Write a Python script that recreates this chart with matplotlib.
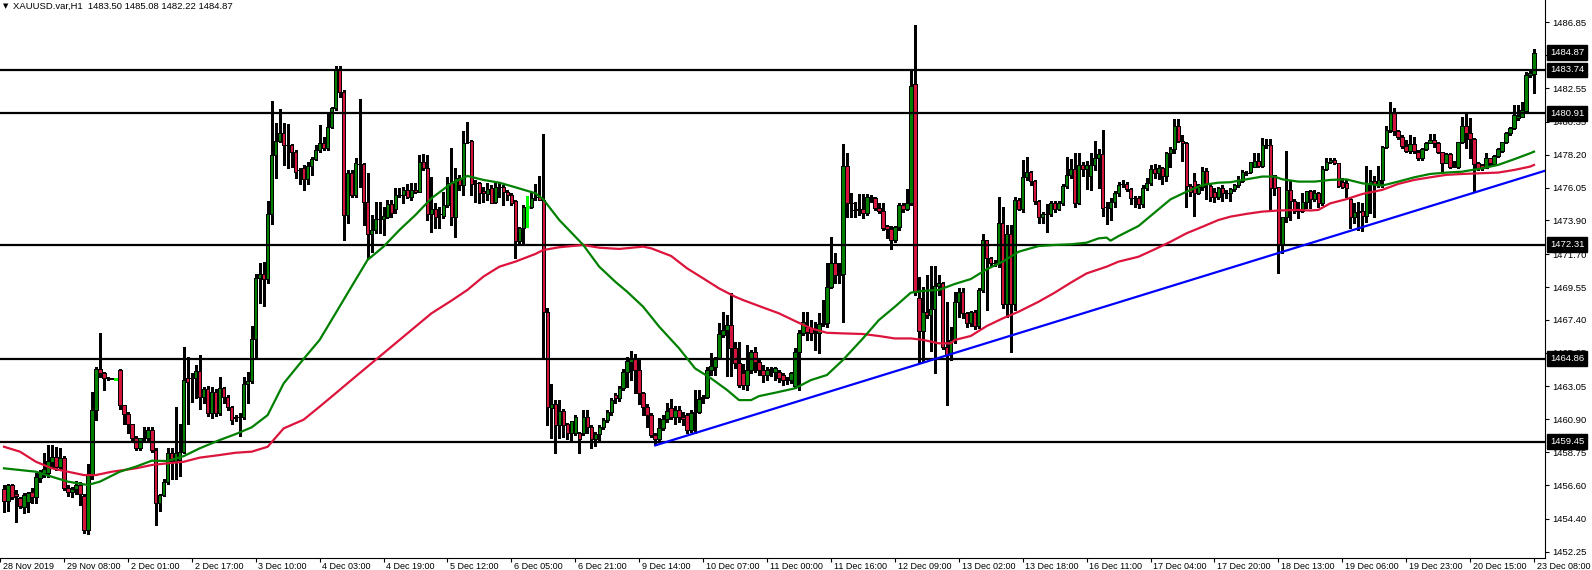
import matplotlib.pyplot as plt
import matplotlib.transforms as mtransforms
import numpy as np

plt.rcParams['font.family'] = ['Liberation Sans', 'DejaVu Sans']

# H1 candles, bar 1 .. bar 384 (28 Nov 2019 -> 23 Dec 08:00)
opens = [
    1456.33, 1455.59, 1456.61, 1456.00, 1455.78, 1455.19, 1455.52, 1456.13, 1455.85, 1457.05,
    1457.37, 1457.37, 1458.14, 1458.46, 1457.81, 1458.35, 1456.39, 1456.13, 1456.33, 1456.61,
    1455.91, 1453.67, 1457.26, 1461.51, 1464.19, 1463.96, 1463.60, 1463.58, 1463.52, 1464.13,
    1461.84, 1461.25, 1460.58, 1459.66, 1459.00, 1459.66, 1459.66, 1460.21, 1458.90, 1455.46,
    1455.96, 1456.83, 1458.68, 1458.15, 1458.25, 1458.79, 1463.58, 1463.58, 1463.58, 1464.08,
    1462.38, 1462.90, 1461.30, 1462.71, 1461.29, 1462.93, 1462.38, 1461.73, 1461.00, 1461.08,
    1461.06, 1463.20, 1463.41, 1466.13, 1470.12, 1470.40, 1470.06, 1474.33, 1478.18, 1479.12,
    1479.60, 1478.84, 1478.84, 1478.40, 1477.20, 1477.31, 1476.59, 1477.46, 1477.92, 1478.51,
    1478.94, 1478.62, 1480.03, 1481.23, 1483.74, 1482.32, 1474.26, 1476.98, 1475.57, 1477.60,
    1477.57, 1475.13, 1473.02, 1473.28, 1473.98, 1473.98, 1474.11, 1474.98, 1474.63, 1475.57,
    1475.57, 1475.89, 1475.46, 1475.89, 1475.78, 1477.75, 1477.31, 1474.32, 1474.63, 1474.32,
    1474.19, 1474.91, 1476.33, 1474.15, 1476.66, 1476.22, 1479.05, 1479.10, 1476.33, 1476.33,
    1475.83, 1475.63, 1476.05, 1475.13, 1476.07, 1476.07, 1475.78, 1475.57, 1475.17, 1472.56,
    1473.39, 1474.80, 1474.80, 1475.46, 1475.46, 1475.24, 1467.90, 1461.67, 1461.91, 1460.54,
    1461.45, 1460.58, 1459.99, 1459.99, 1460.00, 1459.99, 1461.04, 1460.39, 1459.60, 1459.93,
    1460.43, 1460.86, 1461.37, 1462.50, 1462.28, 1462.93, 1463.98, 1464.68, 1464.85, 1464.13,
    1462.64, 1461.73, 1461.18, 1459.88, 1459.59, 1460.31, 1460.90, 1461.67, 1461.08, 1461.52,
    1461.08, 1461.19, 1460.21, 1461.37, 1461.37, 1462.27, 1462.38, 1464.12, 1464.34, 1464.89,
    1466.41, 1466.74, 1467.06, 1465.54, 1464.56, 1463.91, 1463.14, 1464.12, 1465.32, 1464.67,
    1464.12, 1463.80, 1464.17, 1464.02, 1464.02, 1463.80, 1463.47, 1463.47, 1463.08, 1465.32,
    1466.52, 1466.96, 1466.85, 1466.63, 1466.52, 1467.13, 1467.17, 1469.57, 1471.10, 1470.33,
    1470.43, 1477.46, 1475.06, 1474.58, 1474.63, 1474.63, 1474.41, 1475.45, 1475.39, 1474.73,
    1474.54, 1473.54, 1473.32, 1472.62, 1473.45, 1474.91, 1474.63, 1475.02, 1482.82, 1468.81,
    1466.67, 1467.89, 1467.72, 1468.09, 1469.64, 1469.79, 1465.65, 1465.11, 1466.09, 1468.59,
    1469.20, 1467.83, 1467.18, 1467.94, 1467.00, 1469.36, 1472.62, 1471.43, 1471.14, 1471.14,
    1473.71, 1468.42, 1473.02, 1468.42, 1475.24, 1474.67, 1476.76, 1477.09, 1476.48, 1475.19,
    1474.10, 1474.30, 1474.30, 1475.06, 1474.67, 1475.02, 1476.15, 1476.87, 1477.24, 1475.02,
    1477.53, 1477.24, 1476.81, 1477.53, 1477.96, 1478.24, 1474.80, 1474.74, 1475.11, 1475.67,
    1476.28, 1476.28, 1475.96, 1475.35, 1475.35, 1474.95, 1476.00, 1476.33, 1477.24, 1476.98,
    1477.31, 1476.81, 1478.29, 1478.55, 1480.07, 1479.12, 1478.94, 1476.15, 1476.48, 1475.72,
    1476.11, 1477.13, 1476.15, 1475.78, 1475.41, 1476.00, 1475.67, 1475.67, 1475.94, 1476.22,
    1476.50, 1477.03, 1477.09, 1477.42, 1477.81, 1477.46, 1478.82, 1478.82, 1476.88, 1476.11,
    1472.37, 1474.11, 1475.90, 1475.20, 1474.55, 1474.55, 1475.09, 1475.83, 1475.29, 1475.72,
    1475.02, 1477.27, 1477.75, 1477.86, 1477.64, 1476.40, 1476.38, 1475.29, 1474.15, 1474.44,
    1474.55, 1474.20, 1476.33, 1476.51, 1476.29, 1476.55, 1478.68, 1479.82, 1480.91, 1479.77,
    1479.34, 1478.77, 1478.45, 1478.90, 1478.40, 1478.01, 1478.58, 1478.95, 1479.16, 1478.95,
    1478.36, 1477.68, 1478.23, 1477.42, 1477.42, 1479.01, 1480.08, 1479.60, 1479.21, 1477.64,
    1477.53, 1477.36, 1477.97, 1477.57, 1478.14, 1478.47, 1479.01, 1479.60, 1479.93, 1480.58,
    1480.69, 1481.08, 1483.41, 1483.50,
]
highs = [
    1456.60, 1456.68, 1456.68, 1456.28, 1455.85, 1456.11, 1456.17, 1456.39, 1457.37, 1457.59,
    1458.68, 1459.22, 1459.22, 1459.07, 1459.00, 1458.50, 1456.60, 1456.50, 1456.90, 1456.80,
    1456.00, 1458.00, 1462.71, 1464.30, 1466.53, 1464.00, 1463.65, 1463.62, 1463.55, 1464.17,
    1461.84, 1461.40, 1460.60, 1459.80, 1459.70, 1460.40, 1460.40, 1460.40, 1459.00, 1456.00,
    1457.00, 1459.00, 1459.00, 1461.73, 1460.60, 1465.65, 1465.00, 1463.90, 1464.45, 1465.10,
    1463.00, 1463.10, 1463.00, 1462.90, 1463.70, 1463.00, 1462.50, 1461.80, 1461.20, 1461.30,
    1463.70, 1464.00, 1467.00, 1470.40, 1471.10, 1471.20, 1475.20, 1481.70, 1480.30, 1481.20,
    1480.30, 1480.20, 1478.90, 1478.50, 1477.30, 1477.50, 1477.70, 1478.07, 1478.83, 1480.14,
    1479.38, 1481.01, 1481.34, 1484.00, 1484.00, 1482.43, 1477.20, 1477.20, 1477.96, 1481.82,
    1477.64, 1476.98, 1474.26, 1475.13, 1475.13, 1474.80, 1475.24, 1475.24, 1476.00, 1476.00,
    1476.11, 1476.29, 1476.33, 1476.33, 1478.18, 1478.22, 1478.18, 1476.76, 1475.02, 1474.80,
    1475.78, 1476.76, 1478.62, 1477.31, 1476.90, 1479.77, 1480.36, 1479.16, 1476.55, 1476.44,
    1476.11, 1476.33, 1476.22, 1476.37, 1476.33, 1476.22, 1475.89, 1475.68, 1475.24, 1473.45,
    1474.91, 1475.50, 1475.78, 1476.29, 1476.81, 1479.55, 1468.20, 1463.22, 1462.17, 1462.17,
    1461.56, 1460.65, 1460.80, 1461.20, 1460.10, 1461.50, 1461.50, 1460.50, 1460.10, 1460.54,
    1461.00, 1461.50, 1462.30, 1462.60, 1463.10, 1464.20, 1465.00, 1465.37, 1465.20, 1464.90,
    1462.70, 1461.90, 1461.30, 1460.00, 1460.96, 1461.20, 1462.00, 1462.20, 1461.80, 1461.80,
    1461.40, 1461.30, 1461.50, 1462.80, 1462.80, 1462.50, 1464.34, 1465.26, 1465.00, 1467.17,
    1467.94, 1467.70, 1469.13, 1465.98, 1465.98, 1464.50, 1465.76, 1465.43, 1465.65, 1464.89,
    1464.45, 1464.34, 1464.34, 1464.34, 1464.12, 1463.90, 1463.70, 1464.00, 1465.54, 1466.74,
    1467.94, 1467.94, 1467.40, 1467.28, 1467.83, 1468.70, 1471.10, 1472.84, 1471.75, 1471.10,
    1478.90, 1478.29, 1475.67, 1475.13, 1475.63, 1475.63, 1475.63, 1475.56, 1475.45, 1475.02,
    1475.02, 1473.60, 1473.54, 1473.54, 1475.02, 1475.02, 1475.93, 1483.73, 1486.67, 1470.18,
    1469.57, 1470.34, 1470.90, 1470.90, 1470.34, 1469.90, 1468.59, 1466.96, 1469.25, 1469.46,
    1469.46, 1467.90, 1468.00, 1468.05, 1469.50, 1473.02, 1472.62, 1471.50, 1471.30, 1475.41,
    1474.80, 1473.60, 1473.60, 1475.46, 1475.35, 1477.85, 1478.03, 1477.13, 1476.55, 1475.24,
    1474.48, 1475.00, 1475.19, 1475.20, 1475.20, 1476.30, 1478.03, 1477.90, 1478.29, 1478.29,
    1477.70, 1477.80, 1478.30, 1479.12, 1478.55, 1479.81, 1475.10, 1475.40, 1475.80, 1476.40,
    1476.55, 1476.40, 1476.00, 1475.50, 1475.50, 1476.20, 1476.70, 1477.50, 1477.60, 1477.50,
    1477.40, 1478.40, 1478.70, 1480.51, 1480.51, 1479.50, 1479.00, 1476.30, 1477.00, 1476.30,
    1477.40, 1477.30, 1476.30, 1476.00, 1476.10, 1476.20, 1475.90, 1476.00, 1476.30, 1476.80,
    1477.20, 1477.14, 1477.75, 1478.29, 1478.29, 1479.27, 1479.21, 1479.21, 1476.88, 1476.11,
    1474.15, 1478.47, 1476.55, 1475.29, 1475.13, 1475.72, 1475.83, 1475.90, 1475.90, 1475.79,
    1477.46, 1477.97, 1477.97, 1477.97, 1477.68, 1476.66, 1476.59, 1475.46, 1475.02, 1475.13,
    1475.07, 1477.46, 1477.20, 1476.81, 1477.46, 1478.77, 1480.08, 1481.67, 1481.23, 1479.82,
    1479.49, 1479.16, 1479.49, 1479.38, 1478.51, 1478.66, 1479.06, 1479.56, 1479.53, 1479.01,
    1478.40, 1478.29, 1478.29, 1477.81, 1479.06, 1480.69, 1480.91, 1480.58, 1479.27, 1477.70,
    1477.60, 1478.29, 1477.97, 1478.18, 1478.62, 1479.06, 1479.71, 1479.99, 1481.45, 1481.45,
    1481.67, 1483.63, 1483.74, 1485.08,
]
lows = [
    1454.87, 1454.90, 1455.70, 1454.21, 1455.08, 1454.80, 1454.87, 1455.41, 1455.41, 1456.83,
    1457.15, 1457.15, 1457.81, 1457.59, 1457.60, 1456.30, 1455.90, 1455.80, 1456.00, 1455.30,
    1453.50, 1453.40, 1457.00, 1460.86, 1463.70, 1462.82, 1463.50, 1463.52, 1463.50, 1461.60,
    1460.60, 1460.00, 1459.55, 1458.90, 1458.90, 1459.55, 1459.55, 1458.80, 1453.97, 1454.90,
    1455.90, 1456.70, 1457.00, 1457.00, 1457.20, 1458.70, 1460.60, 1462.05, 1462.30, 1461.60,
    1462.00, 1461.10, 1461.00, 1461.10, 1461.20, 1462.00, 1461.50, 1460.60, 1460.80, 1459.81,
    1460.90, 1462.00, 1463.30, 1465.00, 1468.50, 1468.30, 1469.80, 1473.70, 1476.70, 1479.00,
    1477.50, 1477.30, 1477.40, 1476.70, 1476.30, 1475.90, 1476.30, 1476.87, 1477.85, 1478.40,
    1478.51, 1478.51, 1479.92, 1481.12, 1481.99, 1472.62, 1473.71, 1475.46, 1475.46, 1476.11,
    1473.61, 1471.43, 1471.86, 1473.06, 1473.06, 1472.95, 1474.04, 1474.15, 1474.37, 1475.46,
    1475.02, 1475.35, 1475.24, 1475.68, 1475.78, 1477.20, 1473.93, 1473.17, 1473.39, 1473.39,
    1474.04, 1474.80, 1473.61, 1472.84, 1475.90, 1475.57, 1478.94, 1475.57, 1475.13, 1475.02,
    1475.13, 1475.24, 1475.02, 1475.02, 1475.46, 1474.91, 1475.24, 1474.91, 1471.43, 1472.45,
    1472.45, 1473.45, 1474.70, 1475.24, 1475.24, 1465.00, 1460.53, 1459.67, 1458.73, 1459.67,
    1459.77, 1459.60, 1459.56, 1459.90, 1458.68, 1459.90, 1459.99, 1459.00, 1459.16, 1459.56,
    1460.30, 1460.70, 1461.20, 1462.00, 1462.10, 1462.80, 1463.00, 1463.50, 1462.60, 1461.90,
    1461.20, 1460.40, 1459.75, 1459.22, 1459.40, 1460.20, 1460.70, 1460.90, 1460.60, 1460.70,
    1460.50, 1460.00, 1460.10, 1460.00, 1461.30, 1462.00, 1462.27, 1463.80, 1463.80, 1464.89,
    1466.30, 1463.73, 1463.73, 1464.23, 1463.03, 1462.90, 1462.82, 1463.91, 1464.00, 1463.80,
    1463.36, 1463.47, 1463.73, 1463.47, 1463.36, 1463.14, 1463.20, 1463.30, 1462.93, 1462.82,
    1466.41, 1466.08, 1466.08, 1465.43, 1465.21, 1467.00, 1466.96, 1469.46, 1469.79, 1469.79,
    1467.28, 1474.15, 1474.15, 1474.15, 1474.25, 1474.04, 1474.25, 1475.13, 1474.58, 1474.41,
    1473.27, 1472.73, 1472.01, 1472.51, 1473.27, 1474.47, 1474.58, 1474.91, 1469.03, 1464.67,
    1464.67, 1467.50, 1465.40, 1463.91, 1469.03, 1465.50, 1461.84, 1464.78, 1465.87, 1467.61,
    1467.50, 1466.96, 1467.00, 1466.80, 1466.90, 1469.25, 1468.05, 1470.90, 1470.90, 1470.88,
    1468.16, 1467.61, 1465.28, 1468.05, 1474.58, 1474.48, 1476.55, 1476.20, 1475.00, 1473.71,
    1473.71, 1473.17, 1474.20, 1474.48, 1474.58, 1474.90, 1476.00, 1476.70, 1474.80, 1474.95,
    1476.80, 1475.94, 1475.90, 1477.20, 1476.00, 1474.20, 1473.70, 1473.90, 1474.80, 1475.50,
    1476.10, 1475.80, 1474.95, 1474.80, 1474.70, 1474.80, 1475.90, 1476.20, 1476.70, 1476.60,
    1476.30, 1476.50, 1477.40, 1478.30, 1479.00, 1477.80, 1474.80, 1475.50, 1474.20, 1475.60,
    1475.90, 1475.30, 1475.20, 1475.10, 1475.30, 1475.20, 1475.40, 1475.20, 1475.80, 1476.10,
    1476.40, 1476.88, 1476.99, 1477.40, 1477.42, 1477.42, 1478.62, 1474.59, 1475.57, 1470.45,
    1471.76, 1473.83, 1473.94, 1474.37, 1474.04, 1474.48, 1474.70, 1474.70, 1475.20, 1474.81,
    1474.92, 1477.20, 1477.64, 1477.60, 1476.11, 1476.01, 1475.46, 1473.39, 1473.76, 1473.28,
    1473.24, 1473.83, 1474.37, 1474.15, 1476.11, 1476.11, 1478.62, 1479.71, 1479.49, 1479.23,
    1478.62, 1478.40, 1478.29, 1478.29, 1477.86, 1477.86, 1478.51, 1478.95, 1478.73, 1478.29,
    1477.09, 1477.64, 1477.31, 1477.38, 1477.36, 1478.95, 1478.62, 1477.97, 1475.79, 1477.20,
    1477.20, 1477.31, 1477.50, 1477.53, 1478.07, 1478.40, 1478.95, 1479.49, 1479.86, 1480.47,
    1480.65, 1481.02, 1483.30, 1482.22,
]
closes = [
    1455.59, 1456.61, 1455.80, 1455.92, 1455.24, 1455.96, 1456.07, 1455.85, 1457.15, 1457.42,
    1457.63, 1458.18, 1458.46, 1457.81, 1458.40, 1456.39, 1456.13, 1456.33, 1456.61, 1456.00,
    1453.67, 1457.26, 1461.51, 1464.19, 1463.96, 1463.60, 1463.58, 1463.56, 1463.53, 1461.84,
    1461.25, 1460.58, 1459.66, 1459.00, 1459.66, 1459.66, 1460.21, 1458.90, 1455.46, 1455.96,
    1456.83, 1458.68, 1458.15, 1458.68, 1458.79, 1463.48, 1463.37, 1463.58, 1464.06, 1462.38,
    1462.90, 1461.30, 1462.71, 1461.29, 1462.93, 1462.38, 1461.73, 1460.86, 1461.03, 1461.06,
    1463.20, 1463.41, 1466.13, 1470.12, 1470.40, 1470.06, 1474.33, 1478.18, 1479.12, 1479.60,
    1478.84, 1478.82, 1478.40, 1477.09, 1477.18, 1476.59, 1477.46, 1477.92, 1478.51, 1478.94,
    1478.62, 1480.03, 1481.23, 1483.74, 1482.32, 1474.26, 1476.98, 1475.57, 1477.64, 1477.57,
    1475.13, 1473.02, 1473.28, 1473.98, 1473.98, 1474.21, 1474.98, 1474.37, 1475.57, 1475.57,
    1475.89, 1475.46, 1475.89, 1475.74, 1477.75, 1477.31, 1474.32, 1474.63, 1474.11, 1474.32,
    1474.91, 1476.33, 1474.15, 1476.66, 1476.22, 1478.99, 1479.05, 1476.26, 1476.33, 1475.72,
    1475.68, 1475.94, 1475.07, 1476.11, 1476.07, 1475.78, 1475.57, 1475.02, 1472.56, 1473.39,
    1474.80, 1474.80, 1475.35, 1475.46, 1475.24, 1467.90, 1461.69, 1461.91, 1460.54, 1461.45,
    1460.54, 1459.99, 1460.80, 1461.04, 1459.60, 1461.04, 1460.39, 1459.60, 1459.93, 1460.43,
    1460.86, 1461.37, 1462.17, 1462.28, 1462.93, 1463.98, 1464.72, 1464.85, 1464.13, 1462.64,
    1461.73, 1461.18, 1459.88, 1459.59, 1460.31, 1460.90, 1461.47, 1461.08, 1461.52, 1461.04,
    1460.93, 1460.21, 1461.30, 1461.37, 1462.24, 1462.38, 1464.12, 1464.39, 1464.89, 1466.48,
    1466.74, 1467.06, 1465.54, 1464.56, 1463.14, 1463.14, 1464.12, 1465.32, 1464.67, 1464.12,
    1463.80, 1464.12, 1464.17, 1464.23, 1463.58, 1463.47, 1463.51, 1463.91, 1465.32, 1466.52,
    1467.28, 1466.63, 1466.52, 1466.52, 1467.13, 1467.22, 1469.57, 1471.10, 1470.33, 1470.33,
    1477.46, 1475.06, 1475.06, 1474.58, 1474.63, 1474.41, 1475.45, 1475.45, 1474.73, 1474.54,
    1473.38, 1473.32, 1472.62, 1473.45, 1474.91, 1474.63, 1475.02, 1482.69, 1469.24, 1466.67,
    1467.89, 1467.72, 1468.09, 1469.64, 1469.79, 1465.65, 1465.11, 1466.09, 1468.59, 1469.20,
    1467.83, 1467.18, 1467.94, 1467.00, 1469.36, 1472.62, 1471.43, 1471.14, 1471.14, 1473.71,
    1468.42, 1473.02, 1468.42, 1475.24, 1474.67, 1476.76, 1477.09, 1476.48, 1475.19, 1474.10,
    1474.30, 1474.30, 1475.06, 1474.67, 1475.02, 1476.15, 1476.87, 1477.24, 1475.02, 1477.53,
    1477.24, 1477.53, 1477.53, 1477.96, 1478.24, 1474.74, 1474.80, 1475.11, 1475.67, 1476.22,
    1476.28, 1475.96, 1475.35, 1475.35, 1474.95, 1476.00, 1476.33, 1477.24, 1476.98, 1477.31,
    1476.81, 1478.29, 1478.55, 1480.07, 1479.12, 1478.94, 1476.15, 1475.78, 1475.72, 1476.11,
    1477.13, 1476.37, 1475.46, 1475.41, 1476.00, 1475.67, 1475.67, 1475.94, 1476.22, 1476.50,
    1477.09, 1477.03, 1477.75, 1477.81, 1477.46, 1478.84, 1478.82, 1476.01, 1476.01, 1472.37,
    1474.11, 1475.90, 1475.20, 1474.55, 1474.55, 1475.09, 1475.83, 1475.29, 1475.72, 1475.02,
    1477.27, 1477.75, 1477.86, 1477.64, 1476.18, 1476.11, 1476.05, 1474.15, 1474.44, 1474.55,
    1474.20, 1476.33, 1476.51, 1476.29, 1476.55, 1478.68, 1479.82, 1480.91, 1479.77, 1479.34,
    1478.77, 1478.45, 1478.90, 1478.45, 1478.01, 1478.58, 1478.95, 1479.16, 1478.95, 1478.36,
    1477.68, 1478.23, 1477.38, 1477.42, 1479.01, 1480.08, 1479.60, 1479.21, 1477.57, 1477.31,
    1477.36, 1477.97, 1477.64, 1478.14, 1478.55, 1479.01, 1479.60, 1479.93, 1480.80, 1480.73,
    1481.12, 1483.41, 1483.52, 1484.87,
]
lime_bars = [29, 132]

# moving averages at sample bars
fast_idx = [1, 9, 13, 17, 22, 25, 30, 34, 38, 42, 46, 50, 55, 59, 63, 67, 71, 76, 80, 84,
            88, 92, 96, 100, 104, 108, 113, 117, 121, 125, 129, 134, 136, 140, 146, 150, 154,
            157, 161, 165, 170, 174, 178, 182, 185, 188, 190, 194, 199, 203, 207, 211, 216,
            220, 224, 228, 231, 235, 239, 243, 247, 251, 255, 260, 264, 268, 272, 275, 277,
            278, 280, 285, 289, 293, 297, 301, 305, 308, 312, 316, 319, 321, 325, 329, 333,
            337, 341, 346, 350, 354, 358, 362, 366, 371, 375, 379, 383, 384]
fast_val = [1457.70, 1457.48, 1457.15, 1456.83, 1456.61, 1456.83, 1457.48, 1457.81, 1458.20,
            1458.18, 1458.50, 1459.01, 1459.55, 1459.94, 1460.38, 1461.18, 1463.25, 1464.85,
            1466.09, 1467.83, 1469.58, 1471.32, 1472.19, 1473.28, 1474.26, 1475.35, 1476.33,
            1476.81, 1476.55, 1476.37, 1476.07, 1475.68, 1475.28, 1473.93, 1472.30, 1470.88,
            1469.90, 1469.24, 1468.26, 1466.96, 1465.54, 1464.23, 1463.58, 1462.82, 1462.16,
            1462.16, 1462.42, 1462.64, 1462.93, 1463.47, 1463.80, 1464.78, 1466.19, 1467.39,
            1468.26, 1469.18, 1469.30, 1469.36, 1469.75, 1470.07, 1470.71, 1471.21, 1471.86,
            1472.23, 1472.30, 1472.34, 1472.45, 1472.73, 1472.78, 1472.58, 1472.88, 1473.54,
            1474.41, 1475.28, 1475.78, 1476.22, 1476.37, 1476.40, 1476.59, 1476.77, 1476.77,
            1476.59, 1476.44, 1476.44, 1476.55, 1476.59, 1476.33, 1476.18, 1476.44, 1476.72,
            1476.94, 1477.03, 1477.09, 1477.31, 1477.53, 1477.90, 1478.29, 1478.40]
slow_idx = [1, 5, 9, 13, 17, 21, 24, 28, 34, 38, 42, 46, 50, 55, 59, 63, 67, 71, 76, 80,
            84, 88, 92, 96, 100, 104, 108, 113, 117, 121, 125, 129, 134, 136, 140, 146, 150,
            155, 161, 163, 168, 172, 176, 180, 184, 186, 190, 195, 199, 203, 207, 211, 216,
            220, 224, 228, 231, 235, 238, 239, 243, 247, 251, 255, 260, 264, 268, 272, 277,
            280, 285, 289, 293, 297, 301, 305, 308, 312, 316, 320, 325, 328, 330, 333, 337,
            341, 346, 350, 354, 358, 362, 366, 371, 375, 379, 383, 384]
slow_val = [1459.11, 1458.79, 1458.13, 1457.70, 1457.48, 1457.26, 1457.26, 1457.48, 1457.70,
            1457.92, 1458.03, 1458.13, 1458.40, 1458.57, 1458.72, 1458.79, 1459.11, 1460.31,
            1460.88, 1461.73, 1462.60, 1463.48, 1464.35, 1465.22, 1466.09, 1466.96, 1467.83,
            1468.66, 1469.36, 1470.23, 1470.88, 1471.21, 1471.71, 1471.97, 1472.15, 1472.30,
            1472.12, 1472.04, 1472.19, 1472.08, 1471.58, 1470.77, 1470.12, 1469.46, 1468.92,
            1468.70, 1468.31, 1467.83, 1467.33, 1466.85, 1466.56, 1466.52, 1466.48, 1466.35,
            1466.19, 1466.19, 1466.10, 1465.87, 1465.87, 1466.09, 1466.35, 1467.00, 1467.50,
            1467.94, 1468.59, 1469.18, 1469.83, 1470.44, 1470.88, 1471.21, 1471.53, 1472.01,
            1472.51, 1473.06, 1473.49, 1473.93, 1474.15, 1474.33, 1474.48, 1474.55, 1474.59,
            1474.55, 1474.59, 1475.02, 1475.29, 1475.63, 1475.90, 1476.29, 1476.55, 1476.72,
            1476.88, 1476.94, 1476.99, 1477.03, 1477.20, 1477.42, 1477.53]

levels = [1483.74, 1480.91, 1472.31, 1464.86, 1459.45]
last_price = 1484.87
trend_x = [164, 386.75]
trend_y = [1459.2, 1477.15]

price_ticks = [1452.25, 1454.40, 1456.60, 1458.75, 1460.90, 1463.05, 1465.25, 1467.40, 1469.55,
               1471.70, 1473.90, 1476.05, 1478.20, 1480.35, 1482.55, 1484.70, 1486.85]
time_ticks = list(range(0, 385, 16))
time_labels = ['28 Nov 2019', '29 Nov 08:00', '2 Dec 01:00', '2 Dec 17:00', '3 Dec 10:00',
               '4 Dec 03:00', '4 Dec 19:00', '5 Dec 12:00', '6 Dec 05:00', '6 Dec 21:00',
               '9 Dec 14:00', '10 Dec 07:00', '11 Dec 00:00', '11 Dec 16:00', '12 Dec 09:00',
               '13 Dec 02:00', '13 Dec 18:00', '16 Dec 11:00', '17 Dec 04:00', '17 Dec 20:00',
               '18 Dec 13:00', '19 Dec 06:00', '19 Dec 23:00', '20 Dec 15:00', '23 Dec 08:00']

o = np.array(opens); h = np.array(highs); l = np.array(lows); c = np.array(closes)
x = np.arange(1, len(c) + 1)

fig = plt.figure(figsize=(15.92, 5.70), dpi=100)
ax = fig.add_axes([0, 12 / 570, 1545 / 1592, 558 / 570])

# candles
body_col = np.where(c > o, '#008000', '#d4143a')
ax.vlines(x, l, h, color='black', lw=0.8, zorder=2, antialiased=False)
ax.bar(x, np.abs(c - o), bottom=np.minimum(o, c), width=0.85, color=body_col,
       edgecolor='black', linewidth=0.5, zorder=3, antialiased=False)
for b in lime_bars:
    i = b - 1
    ax.vlines(b, l[i], h[i], color='#00ff00', lw=0.8, zorder=3.5, antialiased=False)
    ax.hlines(c[i], b - 0.4, b + 0.4, color='#00ff00', lw=0.8, zorder=3.5, antialiased=False)

# levels, MAs, trend line
for lv in levels:
    ax.axhline(lv, color='black', lw=1.6, zorder=4)
ax.plot(slow_idx, slow_val, color='#dc143c', lw=1.6, zorder=5)
ax.plot(fast_idx, fast_val, color='#008000', lw=1.6, zorder=5)
ax.plot(trend_x, trend_y, color='#0000ff', lw=1.6, zorder=5)

ax.set_xlim(0.5, 386.75)
ax.set_ylim(1451.84, 1488.31)
for s in ['top', 'left']:
    ax.spines[s].set_visible(False)
for s in ['right', 'bottom']:
    ax.spines[s].set_linewidth(0.8)

ax.yaxis.tick_right()
ax.set_yticks(price_ticks)
ax.set_yticklabels([f'{v:.2f}' for v in price_ticks])
ax.tick_params(axis='y', direction='out', length=3, width=0.8, pad=2, labelsize=6.8)
ax.set_xticks(time_ticks)
ax.set_xticklabels(time_labels, ha='left')
ax.tick_params(axis='x', direction='out', length=3, width=0.8, pad=0, labelsize=6.5)
shift = mtransforms.ScaledTranslation(2 / 72, 0, fig.dpi_scale_trans)
for lab in ax.get_xticklabels():
    lab.set_transform(lab.get_transform() + shift)

# price boxes on the scale
trans = mtransforms.blended_transform_factory(ax.transAxes, ax.transData)
for lv in levels + [last_price]:
    ax.text(1.0 + 5 / 1545, lv, f'{lv:.2f}', transform=trans, color='white', fontsize=6.8,
            va='center', ha='left', zorder=10, clip_on=False,
            bbox=dict(boxstyle='square,pad=0.3', fc='black', ec='black'))

fig.text(3 / 1592, 1 - 6 / 570, '\u25bc', fontsize=5, va='center', family='DejaVu Sans')
fig.text(13 / 1592, 1 - 6 / 570, 'XAUUSD.var,H1  1483.50 1485.08 1482.22 1484.87',
         fontsize=6.8, va='center')

fig.savefig('out.png', dpi=100)
